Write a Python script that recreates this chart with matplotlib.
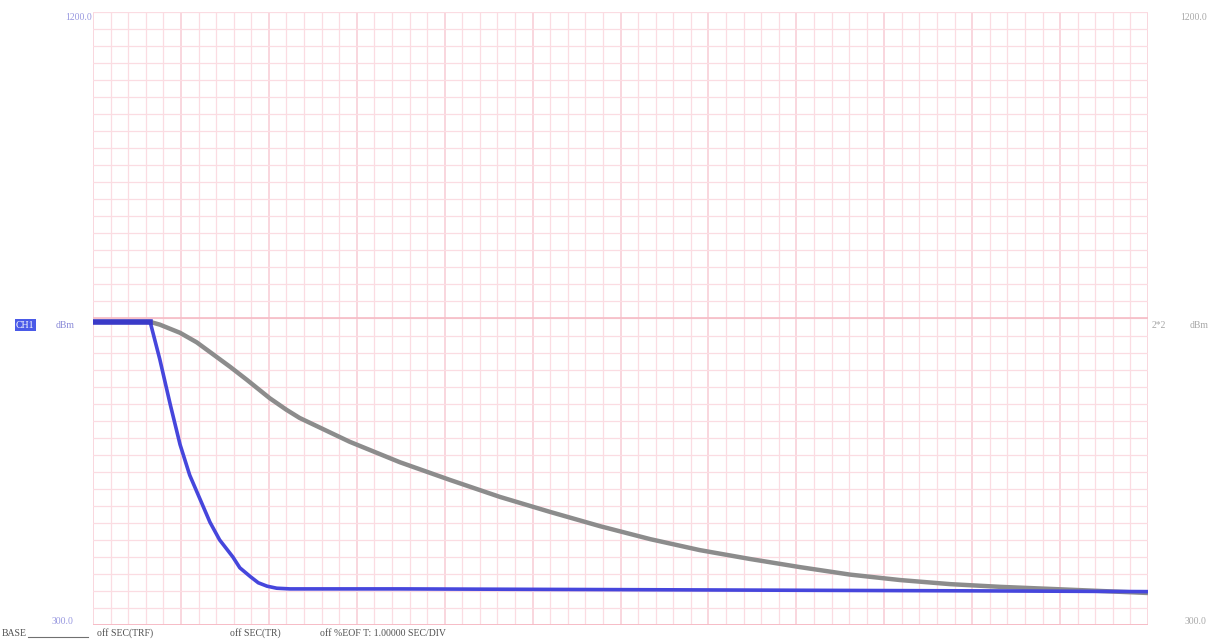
import numpy as np
import matplotlib.pyplot as plt

# time axis in seconds (1 s / major division), level in dBm
t_fast = [0.0, 0.65, 0.70, 0.76, 0.88, 0.99, 1.10, 1.22, 1.33, 1.44, 1.59, 1.67,
          1.79, 1.88, 1.98, 2.09, 2.24, 3.5, 5.8, 8.0, 10.3, 12.0]
v_fast = [745, 745, 720, 690, 623, 565, 520, 484, 451, 425, 400, 384,
          371, 362, 357, 354, 353, 353, 352, 351, 350, 349]

t_slow = [0.0, 0.65, 0.76, 0.99, 1.18, 1.37, 1.56, 1.75, 2.01, 2.20, 2.35, 2.92,
          3.49, 4.06, 4.63, 5.20, 5.77, 6.34, 6.90, 7.47, 8.04, 8.61, 9.18,
          9.75, 10.32, 10.89, 11.45, 12.0]
v_slow = [745, 745, 741, 729, 715, 697, 679, 660, 633, 616, 604, 569,
          539, 513, 488, 466, 445, 426, 410, 397, 385, 374, 366,
          360, 356, 353, 350, 347]

y_top, y_bot = 1200.0, 300.0
x_max = 12.0

fig = plt.figure(figsize=(12.15, 6.39), dpi=100)
ax = fig.add_axes([93/1215, 1 - 625/639, (1148-93)/1215, (625-12)/639])
ax.set_xlim(0, x_max)
ax.set_ylim(y_bot, y_top)

# chart paper grid
minor_c = '#fbdce2'
major_c = '#f8ccd5'
for i in range(61):
    x = i * 0.2
    ax.axvline(x, color=major_c if i % 5 == 0 else minor_c,
               lw=1.1 if i % 5 == 0 else 0.9, zorder=0)
for j in range(37):
    y = y_bot + j * 25
    ax.axhline(y, color=minor_c, lw=0.9, zorder=0)
ax.axhline(750, color='#f6bcc6', lw=1.2, zorder=0)
ax.axhline(y_bot, color='#f6bcc6', lw=1.4, zorder=0)

for s in ax.spines.values():
    s.set_visible(False)
ax.set_xticks([])
ax.set_yticks([])

ax.plot(t_slow, v_slow, color='#8c8c8c', lw=3.2, solid_capstyle='butt', zorder=2)
ax.plot(t_fast, v_fast, color='#4646dc', lw=2.6, solid_capstyle='butt', zorder=3)
ax.plot(t_fast[:2], v_fast[:2], color='#3a3ac8', lw=4.0, zorder=4)

fnt = dict(family='Liberation Serif', fontsize=7)
fig.text(65/1215, 1 - 17/639, '1200.0', color='#9898e0', ha='left', va='center', **fnt)
fig.text(1180/1215, 1 - 17/639, '1200.0', color='#a8a8a8', ha='left', va='center', **fnt)
fig.text(52/1215, 1 - 622/639, '300.0', color='#9898e0', ha='left', va='center', **fnt)
fig.text(1185/1215, 1 - 622/639, '300.0', color='#a8a8a8', ha='left', va='center', **fnt)

fig.text(16/1215, 1 - 325/639, 'CH1', color='white', ha='left', va='center',
         bbox=dict(boxstyle='square,pad=0.15', fc='#4a5ae8', ec='none'), **fnt)
fig.text(56/1215, 1 - 326/639, 'dBm', color='#8a8ad8', ha='left', va='center', **fnt)
fig.text(1152/1215, 1 - 326/639, '2*2', color='#a8a8a8', ha='left', va='center', **fnt)
fig.text(1190/1215, 1 - 326/639, 'dBm', color='#a8a8a8', ha='left', va='center', **fnt)

bottom = [(2, 'BASE'), (97, 'off SEC(TRF)'), (230, 'off SEC(TR)'),
          (320, 'off %EOF T: 1.00000 SEC/DIV')]
for px, s in bottom:
    fig.text(px/1215, 1 - 633/639, s, color='#505050', ha='left', va='center', **fnt)
fig.add_artist(plt.Line2D([28/1215, 88/1215], [1 - 637/639, 1 - 637/639],
                          color='#707070', lw=0.8))

fig.savefig('out.png', dpi=100, facecolor='white')
